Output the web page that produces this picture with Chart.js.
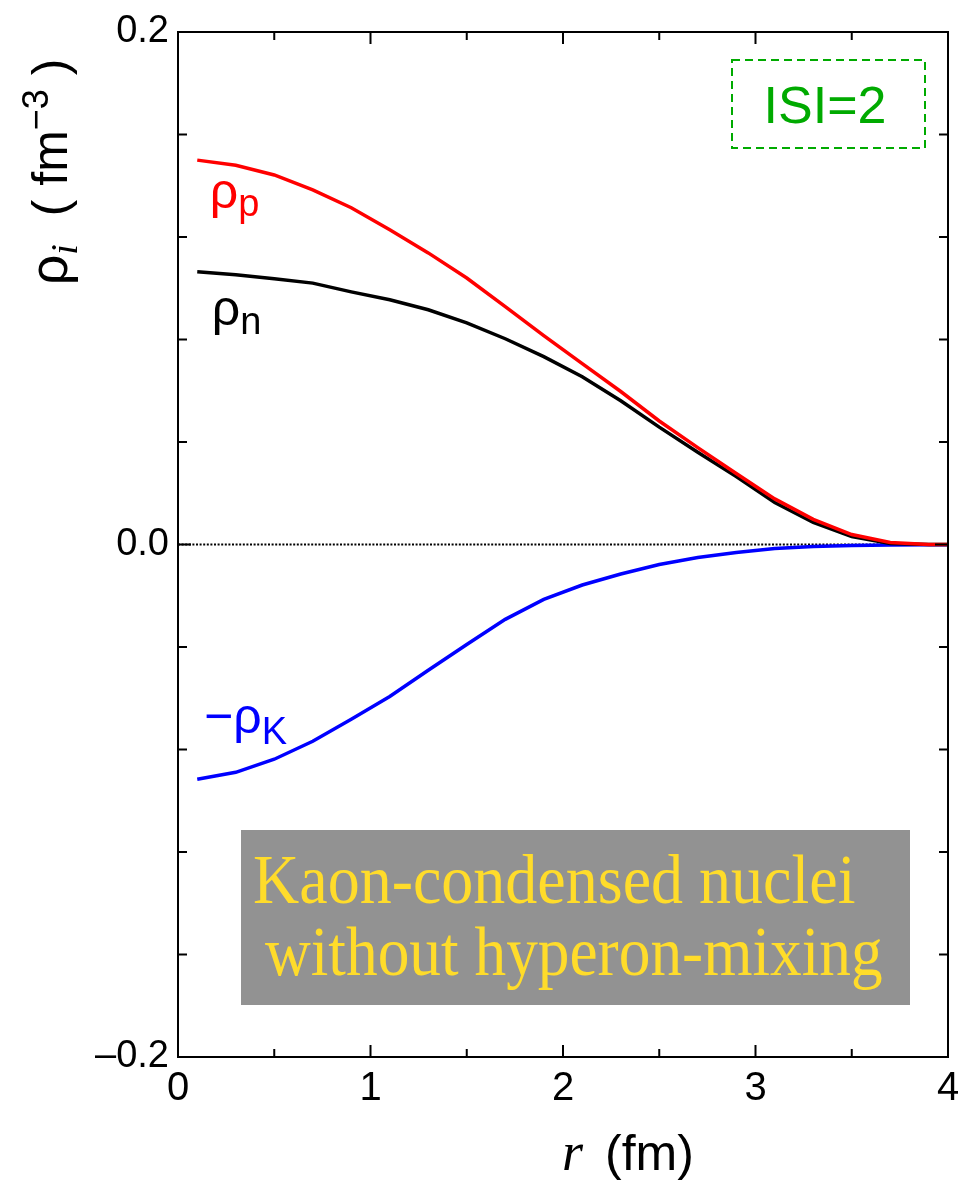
<!DOCTYPE html>
<html>
<head>
<meta charset="utf-8">
<script src="https://cdn.jsdelivr.net/npm/chart.js@4/dist/chart.umd.min.js"></script>
<style>
  html, body { margin: 0; padding: 0; background: #fff; }
  #wrap { width: 958px; height: 1185px; }
</style>
</head>
<body>
<div id="wrap"><canvas id="c" width="958" height="1185"></canvas></div>
<script>
// radial positions (fm)
const radius = [0.1, 0.3, 0.5, 0.7, 0.9, 1.1, 1.3, 1.5, 1.7, 1.9, 2.1, 2.3, 2.5, 2.7, 2.9, 3.1, 3.3, 3.5, 3.7, 3.9, 4.1];
// proton density (fm^-3)
const rhoProton = [0.150, 0.148, 0.1442, 0.1384, 0.1314, 0.1228, 0.1138, 0.104, 0.0928, 0.0815, 0.0706, 0.0597, 0.0482, 0.0378, 0.0277, 0.0178, 0.0098, 0.0039, 0.0008, 0, 0];
// neutron density (fm^-3)
const rhoNeutron = [0.1064, 0.1053, 0.1037, 0.102, 0.0986, 0.0955, 0.0916, 0.0865, 0.0803, 0.0733, 0.0655, 0.0561, 0.0458, 0.036, 0.0265, 0.0164, 0.0086, 0.0031, 0.0004, 0, 0];
// minus kaon density (fm^-3)
const minusRhoKaon = [-0.0916, -0.0889, -0.0838, -0.0768, -0.0682, -0.0593, -0.0491, -0.039, -0.0292, -0.0214, -0.0158, -0.0115, -0.0078, -0.0051, -0.0031, -0.0016, -0.0008, -0.0004, -0.0002, -0.0001, 0];
// labelled ticks
const xTickLabels = [0, 1, 2, 3, 4];
const yTickLabels = [-0.2, 0.0, 0.2];

const SANS = '"Liberation Sans", Arial, Helvetica, sans-serif';
const SERIF = '"Liberation Serif", "Times New Roman", serif';

const pts = (ys) => radius.map((x, i) => ({ x, y: ys[i] }));

function drawRuns(ctx, runs, x, y, align) {
  let total = 0;
  runs.forEach(r => { ctx.font = r.font; r.w = ctx.measureText(r.t).width + (r.gap || 0); total += r.w; });
  let cx = align === 'center' ? x - total / 2 : x;
  ctx.textBaseline = 'alphabetic';
  ctx.textAlign = 'left';
  runs.forEach(r => {
    ctx.font = r.font;
    if (r.color) ctx.fillStyle = r.color;
    ctx.fillText(r.t, cx, y + (r.dy || 0));
    cx += r.w;
  });
}

const frame = {
  id: 'frame',
  beforeDatasetsDraw(chart) {
    const { ctx, chartArea: a, scales: { y } } = chart;
    const y0 = y.getPixelForValue(0);
    ctx.save();
    ctx.strokeStyle = '#000';
    ctx.lineWidth = 2;
    ctx.setLineDash([2, 1.6]);
    ctx.beginPath();
    ctx.moveTo(a.left, y0);
    ctx.lineTo(a.right, y0);
    ctx.stroke();
    ctx.restore();
  },
  afterDatasetsDraw(chart) {
    const { ctx, chartArea: a, scales: { x, y } } = chart;
    ctx.save();
    ctx.strokeStyle = '#000';
    ctx.lineWidth = 2;
    ctx.strokeRect(a.left, a.top, a.right - a.left, a.bottom - a.top);
    // inward ticks on all four sides
    ctx.beginPath();
    x.ticks.forEach(t => {
      const px = x.getPixelForValue(t.value);
      const len = xTickLabels.includes(Math.round(t.value * 1000) / 1000) ? 12 : 8;
      ctx.moveTo(px, a.bottom); ctx.lineTo(px, a.bottom - len);
      ctx.moveTo(px, a.top); ctx.lineTo(px, a.top + len);
    });
    y.ticks.forEach(t => {
      const py = y.getPixelForValue(t.value);
      const major = yTickLabels.some(v => Math.abs(v - t.value) < 1e-9);
      const len = major ? 13 : 9;
      ctx.moveTo(a.left, py); ctx.lineTo(a.left + len, py);
      ctx.moveTo(a.right, py); ctx.lineTo(a.right - len, py);
    });
    ctx.stroke();

    // series labels
    const lx = (v) => x.getPixelForValue(v);
    const ly = (v) => y.getPixelForValue(v);
    drawRuns(ctx, [
      { t: 'ρ', font: `50px ${SANS}`, color: '#ff0000' },
      { t: 'p', font: `38px ${SANS}`, dy: 8 }
    ], lx(0.165), ly(0.1315), 'left');
    drawRuns(ctx, [
      { t: 'ρ', font: `50px ${SANS}`, color: '#000000' },
      { t: 'n', font: `38px ${SANS}`, dy: 9 }
    ], lx(0.175), ly(0.0855), 'left');
    drawRuns(ctx, [
      { t: '−ρ', font: `50px ${SANS}`, color: '#0000ff' },
      { t: 'K', font: `38px ${SANS}`, dy: 11 }
    ], lx(0.135), ly(-0.0735), 'left');

    // |S| = 2 box
    ctx.save();
    ctx.strokeStyle = '#00aa00';
    ctx.lineWidth = 2;
    ctx.setLineDash([8, 5]);
    ctx.strokeRect(732, 60, 193, 88);
    ctx.restore();
    ctx.fillStyle = '#00aa00';
    ctx.font = `52px ${SANS}`;
    ctx.textAlign = 'center';
    ctx.textBaseline = 'alphabetic';
    ctx.fillText('ISI=2', 825, 123);

    // caption box
    ctx.fillStyle = '#929292';
    ctx.fillRect(241, 830, 669, 175);
    ctx.fillStyle = '#ffdc2a';
    ctx.textAlign = 'left';
    ctx.font = `64px ${SERIF}`;
    ctx.save();
    ctx.translate(253, 903);
    ctx.scale(1, 1.08);
    ctx.fillText('Kaon-condensed nuclei', 0, 0);
    ctx.restore();
    ctx.save();
    ctx.translate(265, 975);
    ctx.scale(0.99, 1.08);
    ctx.fillText('without hyperon-mixing', 0, 0);
    ctx.restore();

    // axis titles
    ctx.fillStyle = '#000';
    drawRuns(ctx, [
      { t: 'r', font: `italic 54px ${SERIF}`, gap: 22 },
      { t: '(fm)', font: `50px ${SANS}` }
    ], 562, 1170, 'left');

    ctx.save();
    ctx.translate(67, 172);
    ctx.rotate(-Math.PI / 2);
    drawRuns(ctx, [
      { t: 'ρ', font: `54px ${SANS}` },
      { t: 'i', font: `italic 38px ${SERIF}`, dy: 10 },
      { t: '  ( fm', font: `50px ${SANS}` },
      { t: '−3', font: `36px ${SANS}`, dy: -19 },
      { t: ' )', font: `50px ${SANS}` }
    ], 0, 0, 'center');
    ctx.restore();
    ctx.restore();
  }
};

new Chart(document.getElementById('c'), {
  type: 'line',
  data: {
    datasets: [
      { label: 'ρp', data: pts(rhoProton), borderColor: '#ff0000', borderWidth: 3.5 },
      { label: 'ρn', data: pts(rhoNeutron), borderColor: '#000000', borderWidth: 3.5 },
      { label: '−ρK', data: pts(minusRhoKaon), borderColor: '#0000ff', borderWidth: 3.5 }
    ]
  },
  options: {
    responsive: false,
    animation: false,
    events: [],
    elements: { point: { radius: 0 }, line: { tension: 0, fill: false } },
    layout: { autoPadding: false, padding: { top: 32, right: 10, left: 0, bottom: 0 } },
    plugins: { legend: { display: false }, tooltip: { enabled: false } },
    scales: {
      x: {
        type: 'linear', min: 0, max: 4,
        grid: { display: false, drawTicks: false },
        border: { display: false },
        ticks: {
          stepSize: 0.5, autoSkip: false, maxRotation: 0, padding: 8,
          color: '#000', font: { family: SANS, size: 40 },
          callback: (v) => xTickLabels.includes(v) ? String(v) : ''
        },
        afterFit: (s) => { s.height = 128; s.paddingLeft = 0; s.paddingRight = 0; }
      },
      y: {
        type: 'linear', min: -0.2, max: 0.2,
        grid: { display: false, drawTicks: false },
        border: { display: false },
        ticks: {
          stepSize: 0.04, autoSkip: false, padding: 9,
          color: '#000', font: { family: SANS, size: 38 },
          callback: (v) => {
            const hit = yTickLabels.find(t => Math.abs(t - v) < 1e-9);
            if (hit === undefined) return '';
            return hit < 0 ? '–' + Math.abs(hit).toFixed(1) : hit.toFixed(1);
          }
        },
        afterFit: (s) => { s.width = 178; s.paddingTop = 0; s.paddingBottom = 0; }
      }
    }
  },
  plugins: [frame]
});
</script>
</body>
</html>
